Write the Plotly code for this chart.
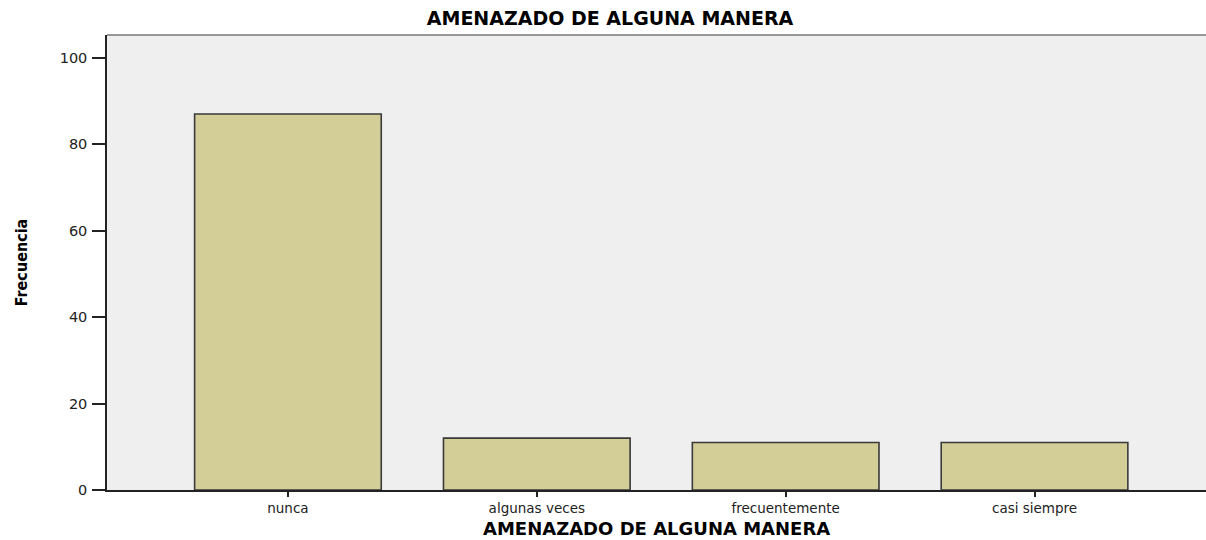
import plotly.graph_objects as go

categories = ["nunca", "algunas veces", "frecuentemente", "casi siempre"]
frecuencia = [87, 12, 11, 11]
y_ticks = [0, 20, 40, 60, 80, 100]
title_text = "AMENAZADO DE ALGUNA MANERA"
x_title = "AMENAZADO DE ALGUNA MANERA"
y_title = "Frecuencia"

fig = go.Figure()
fig.add_trace(go.Bar(
    x=categories, y=frecuencia, width=0.75,
    marker=dict(color="#D3CD97", line=dict(color="#3a3a3a", width=1.6)),
    hoverinfo="x+y",
))

fig.update_layout(
    width=1206, height=540,
    margin=dict(l=107, r=0, t=35, b=50),
    paper_bgcolor="white", plot_bgcolor="#EFEFEF",
    showlegend=False,
    title=dict(text="<b>" + title_text + "</b>", x=610 / 1206, xref="container",
               xanchor="center",
               y=1 - 18 / 540, yref="container", yanchor="middle",
               font=dict(family="DejaVu Sans", size=19, color="black")),
    font=dict(family="DejaVu Sans", color="#222"),
)
fig.update_xaxes(
    type="category", range=[-0.727, 3.689],
    showline=True, linecolor="#222", linewidth=1.5,
    ticks="outside", ticklen=5, tickwidth=1.5, tickcolor="#222",
    tickfont=dict(size=13.5, family="DejaVu Sans", color="#222"),
    showgrid=False, zeroline=False, automargin=False,
)
fig.update_yaxes(
    range=[0, 105.3], tickvals=y_ticks,
    showline=True, linecolor="#222", linewidth=1.5,
    ticks="outside", ticklen=13, tickwidth=1.5, tickcolor="#222",
    ticklabelstandoff=2,
    tickfont=dict(size=14.5, family="DejaVu Sans", color="#222"),
    showgrid=False, zeroline=False,
    title=dict(text="<b>" + y_title + "</b>", standoff=28,
               font=dict(family="DejaVu Sans Condensed, DejaVu Sans", size=16, color="black")),
)
fig.add_annotation(text="<b>" + x_title + "</b>", xref="paper", yref="paper",
                   x=0.5, y=0, xanchor="center", yanchor="top", yshift=-26,
                   showarrow=False,
                   font=dict(family="DejaVu Sans", size=18, color="black"))
fig.add_shape(type="line", xref="paper", yref="paper", x0=0, x1=1, y0=1, y1=1,
              line=dict(color="#777", width=1.5))

fig.write_html("out.html",
               config={"displayModeBar": False},
               post_script="document.body.style.margin='0';document.body.style.overflow='hidden';")
